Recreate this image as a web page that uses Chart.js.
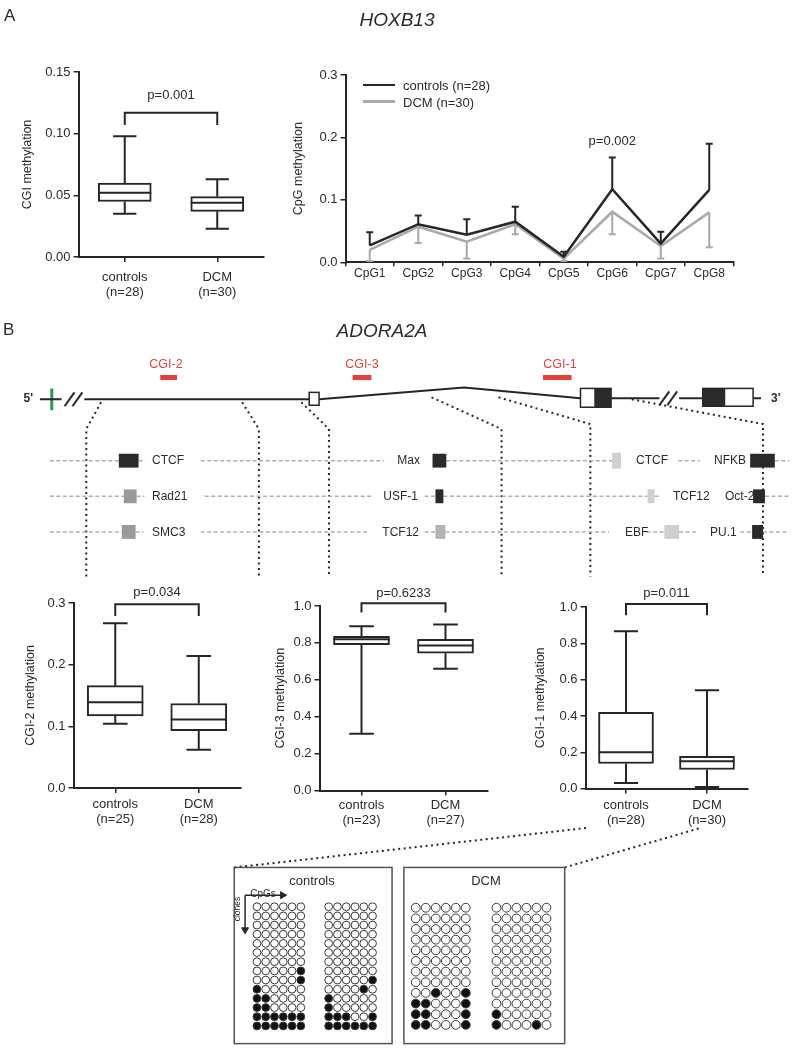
<!DOCTYPE html>
<html>
<head>
<meta charset="utf-8">
<title>HOXB13 / ADORA2A methylation</title>
<script src="https://cdn.jsdelivr.net/npm/chart.js@4.4.1/dist/chart.umd.min.js"></script>
<style>
  body { margin: 0; background: #fff; font-family: "Liberation Sans", Arial, sans-serif; color: #2b2b2b; }
  #page { position: relative; width: 795px; height: 1051px; overflow: hidden; }
  .box { position: absolute; }
  .t { position: absolute; white-space: nowrap; line-height: 1; }
</style>
</head>
<body>
<div id="page"></div>
<script>
// ---------- data ----------

// A: HOXB13 CGI methylation (box = quartiles, whiskers = min/max)
const hoxGroups = [['controls', '(n=28)'], ['DCM', '(n=30)']];
const hoxMin = [0.035, 0.023];
const hoxQ1  = [0.045, 0.037];
const hoxMed = [0.052, 0.044];
const hoxQ3  = [0.060, 0.049];
const hoxMax = [0.098, 0.063];

// A: single CpGs, mean + one sided error bar end
const cpgLabels     = ['CpG1', 'CpG2', 'CpG3', 'CpG4', 'CpG5', 'CpG6', 'CpG7', 'CpG8'];
const cpgControls   = [0.027, 0.061, 0.044, 0.065, 0.009, 0.117, 0.030, 0.116];
const cpgControlsHi = [0.048, 0.075, 0.069, 0.089, 0.017, 0.168, 0.049, 0.190];
const cpgDcm        = [0.020, 0.057, 0.033, 0.061, 0.006, 0.081, 0.026, 0.080];
const cpgDcmLo      = [0.002, 0.031, 0.006, 0.045, 0.002, 0.045, 0.006, 0.024];

// B: ADORA2A CGI-2
const cgi2Groups = [['controls', '(n=25)'], ['DCM', '(n=28)']];
const cgi2Min = [0.104, 0.062];
const cgi2Q1  = [0.117, 0.093];
const cgi2Med = [0.139, 0.111];
const cgi2Q3  = [0.166, 0.137];
const cgi2Max = [0.267, 0.214];

// B: CGI-3
const cgi3Groups = [['controls', '(n=23)'], ['DCM', '(n=27)']];
const cgi3Min = [0.307, 0.660];
const cgi3Q1  = [0.791, 0.744];
const cgi3Med = [0.820, 0.786];
const cgi3Q3  = [0.835, 0.820];
const cgi3Max = [0.890, 0.900];

// B: CGI-1
const cgi1Groups = [['controls', '(n=28)'], ['DCM', '(n=30)']];
const cgi1Min = [0.031, 0.009];
const cgi1Q1  = [0.138, 0.105];
const cgi1Med = [0.200, 0.150];
const cgi1Q3  = [0.420, 0.178];
const cgi1Max = [0.866, 0.541];

// bisulfite clones, each row = [sample 1, sample 2], 1 = methylated CpG
const controlsClones = [
  ['000000', '000000'], ['000000', '000000'], ['000000', '000000'], ['000000', '000000'],
  ['000000', '000000'], ['000000', '000000'], ['000000', '000000'],
  ['000001', '000000'],
  ['000001', '000001'],
  ['100000', '000010'],
  ['110000', '100000'],
  ['110000', '100000'],
  ['111111', '111001'],
  ['111111', '111111']
];
const dcmClones = [
  ['000000', '000000'], ['000000', '000000'], ['000000', '000000'], ['000000', '000000'],
  ['000000', '000000'], ['000000', '000000'], ['000000', '000000'], ['000000', '000000'],
  ['001001', '000000'],
  ['110001', '000000'],
  ['110001', '100000'],
  ['110001', '100010']
];

// ---------- helpers ----------
const ink = '#262626';
const txt = '#2b2b2b';
const grey = '#a9a9a9';
const red = '#e5403a';
const FONT = '"Liberation Sans", Arial, sans-serif';
Chart.defaults.font.family = FONT;
Chart.defaults.color = txt;

const page = document.getElementById('page');

function place(left, top, w, h) {
  const d = document.createElement('div');
  d.className = 'box';
  d.style.cssText = `left:${left}px;top:${top}px;width:${w}px;height:${h}px`;
  const c = document.createElement('canvas');
  d.appendChild(c);
  page.appendChild(d);
  return c;
}

function label(text, x, y, o = {}) {
  const d = document.createElement('div');
  d.className = 't';
  d.textContent = text;
  const ax = o.align === 'left' ? '0' : o.align === 'right' ? '-100%' : '-50%';
  d.style.left = x + 'px';
  d.style.top = y + 'px';
  d.style.transform = `translate(${ax}, -50%)` + (o.rot ? ` rotate(${o.rot}deg)` : '');
  d.style.fontSize = (o.size || 12) + 'px';
  if (o.color) d.style.color = o.color;
  if (o.italic) d.style.fontStyle = 'italic';
  if (o.bold) d.style.fontWeight = 'bold';
  d.style.zIndex = 5;
  page.appendChild(d);
}

function axisGrid(extra) {
  return Object.assign({ drawOnChartArea: false, tickLength: 5, color: ink, lineWidth: 1.5 }, extra || {});
}

// whiskers, median, bracket and p value for a box plot
function boxExtras(st, ann) {
  return {
    id: 'boxExtras',
    afterDatasetsDraw(chart) {
      const { ctx, scales: { x, y } } = chart;
      const bars = chart.getDatasetMeta(0).data;
      ctx.save();
      ctx.strokeStyle = ink;
      ctx.lineWidth = 2;
      bars.forEach((bar, i) => {
        const half = bar.width / 2, cap = bar.width * 0.22;
        const pMax = y.getPixelForValue(st.max[i]);
        const pMin = y.getPixelForValue(st.min[i]);
        const pMed = y.getPixelForValue(st.med[i]);
        const pQ1 = y.getPixelForValue(st.q1[i]);
        const pQ3 = y.getPixelForValue(st.q3[i]);
        ctx.beginPath();
        ctx.moveTo(bar.x - half, pMed); ctx.lineTo(bar.x + half, pMed);
        ctx.moveTo(bar.x, pQ3); ctx.lineTo(bar.x, pMax);
        ctx.moveTo(bar.x - cap, pMax); ctx.lineTo(bar.x + cap, pMax);
        ctx.moveTo(bar.x, pQ1); ctx.lineTo(bar.x, pMin);
        ctx.moveTo(bar.x - cap, pMin); ctx.lineTo(bar.x + cap, pMin);
        ctx.stroke();
      });
      const xa = x.getPixelForValue(0), xb = x.getPixelForValue(1);
      const yb = y.getPixelForValue(ann.bar), yl = y.getPixelForValue(ann.leg);
      ctx.beginPath();
      ctx.moveTo(xa, yl); ctx.lineTo(xa, yb); ctx.lineTo(xb, yb); ctx.lineTo(xb, yl);
      ctx.stroke();
      ctx.fillStyle = txt;
      ctx.font = '13px ' + FONT;
      ctx.textAlign = 'center';
      ctx.textBaseline = 'middle';
      ctx.fillText(ann.p, (xa + xb) / 2, y.getPixelForValue(ann.text));
      ctx.restore();
    }
  };
}

function boxChart(geo, groups, st, ann) {
  const padTop = 24, xH = 46;
  const L = geo.titleX - 7.5, T = geo.top - padTop;
  const W = geo.right + 6 - L, H = geo.bottom + xH - T;
  const canvas = place(L, T, W, H);
  return new Chart(canvas, {
    type: 'bar',
    data: {
      labels: groups,
      datasets: [{
        data: st.q1.map((v, i) => [v, st.q3[i]]),
        backgroundColor: '#fff', borderColor: ink, borderWidth: 2,
        borderSkipped: false, barThickness: geo.boxW
      }]
    },
    options: {
      responsive: true, maintainAspectRatio: false, animation: false,
      layout: { padding: { top: padTop, right: 6, left: 0, bottom: 0 } },
      plugins: { legend: { display: false }, tooltip: { enabled: false } },
      scales: {
        x: {
          grid: axisGrid({ offset: false }),
          border: { color: ink, width: 2 },
          ticks: { font: { size: 13, lineHeight: 1.15 }, color: txt, padding: geo.xPad, maxRotation: 0 },
          afterFit: s => { s.height = xH; }
        },
        y: {
          min: 0, max: geo.max,
          grid: axisGrid(),
          border: { color: ink, width: 2 },
          ticks: { stepSize: geo.step, font: { size: 13 }, color: txt, padding: 3,
                   callback: v => Number(v).toFixed(geo.digits) },
          title: { display: true, text: geo.title, font: { size: 12.5 }, color: txt, padding: 0 },
          afterFit: s => { s.width = geo.axisX - L; }
        }
      }
    },
    plugins: [boxExtras(st, ann)]
  });
}

// ---------- A: HOXB13 ----------
label('A', 4, 15, { align: 'left', size: 17 });
label('HOXB13', 397, 19, { size: 19, italic: true });

boxChart(
  { titleX: 27, axisX: 78, top: 72, bottom: 257, right: 263, boxW: 53, max: 0.15, step: 0.05, digits: 2, xPad: 8, title: 'CGI methylation' },
  hoxGroups,
  { min: hoxMin, q1: hoxQ1, med: hoxMed, q3: hoxQ3, max: hoxMax },
  { p: 'p=0.001', bar: 0.117, leg: 0.107, text: 0.131 }
);

// CpG line chart
const errorBars = {
  id: 'errorBars',
  beforeDatasetsDraw(chart) {
    const { ctx, scales: { y } } = chart;
    ctx.save();
    ctx.lineWidth = 2;
    chart.data.datasets.forEach((ds, di) => {
      ctx.strokeStyle = ds.borderColor;
      chart.getDatasetMeta(di).data.forEach((pt, i) => {
        const ye = y.getPixelForValue(ds.errEnd[i]);
        ctx.beginPath();
        ctx.moveTo(pt.x, pt.y); ctx.lineTo(pt.x, ye);
        ctx.moveTo(pt.x - 3.5, ye); ctx.lineTo(pt.x + 3.5, ye);
        ctx.stroke();
      });
    });
    ctx.restore();
  },
  afterDatasetsDraw(chart) {
    const { ctx, scales: { x, y } } = chart;
    ctx.save();
    ctx.fillStyle = txt;
    ctx.font = '13px ' + FONT;
    ctx.textAlign = 'center';
    ctx.textBaseline = 'middle';
    ctx.fillText('p=0.002', x.getPixelForValue(5), y.getPixelForValue(0.193));
    ctx.restore();
  }
};

(function () {
  const geo = { titleX: 298, axisX: 345, top: 75, bottom: 262.3, right: 733 };
  const padTop = 24, xH = 30;
  const L = geo.titleX - 7.5, T = geo.top - padTop;
  const canvas = place(L, T, geo.right + 8 - L, geo.bottom + xH - T);
  new Chart(canvas, {
    type: 'line',
    data: {
      labels: cpgLabels,
      datasets: [
        { label: 'controls (n=28)', data: cpgControls, errEnd: cpgControlsHi, borderColor: ink, borderWidth: 2.5, pointRadius: 0, tension: 0 },
        { label: 'DCM (n=30)', data: cpgDcm, errEnd: cpgDcmLo, borderColor: grey, borderWidth: 2.5, pointRadius: 0, tension: 0 }
      ]
    },
    options: {
      responsive: true, maintainAspectRatio: false, animation: false,
      layout: { padding: { top: padTop, right: 8, left: 0, bottom: 0 } },
      plugins: { legend: { display: false }, tooltip: { enabled: false } },
      scales: {
        x: {
          offset: true,
          grid: axisGrid({ offset: true, tickLength: 4 }),
          border: { color: ink, width: 2 },
          ticks: { font: { size: 12 }, color: txt, padding: 0, maxRotation: 0, autoSkip: false },
          afterFit: s => { s.height = xH; }
        },
        y: {
          min: 0, max: 0.3,
          grid: axisGrid(),
          border: { color: ink, width: 2 },
          ticks: { stepSize: 0.1, font: { size: 13 }, color: txt, padding: 3, callback: v => Number(v).toFixed(1) },
          title: { display: true, text: 'CpG methylation', font: { size: 12.5 }, color: txt, padding: 0 },
          afterFit: s => { s.width = geo.axisX - L; }
        }
      }
    },
    plugins: [errorBars]
  });
})();

// legend of the CpG chart
[['controls (n=28)', ink, 85], ['DCM (n=30)', grey, 101.7]].forEach(([name, col, y]) => {
  const sw = document.createElement('div');
  sw.className = 'box';
  sw.style.cssText = `left:363px;top:${y - 1.25}px;width:32px;height:2.5px;background:${col};z-index:5`;
  page.appendChild(sw);
  label(name, 403, y, { align: 'left', size: 13 });
});

// ---------- B: ADORA2A ----------
label('B', 3, 329, { align: 'left', size: 17 });
label('ADORA2A', 382, 330, { size: 19, italic: true });
label("5'", 33, 398, { align: 'right', size: 12, bold: true });
label("3'", 771, 398, { align: 'left', size: 12, bold: true });
label('CGI-2', 166, 364, { size: 12.5, color: red });
label('CGI-3', 362, 364, { size: 12.5, color: red });
label('CGI-1', 560, 364, { size: 12.5, color: red });

// transcription factor names [text, x, y, align]
[
  ['CTCF', 152, 460, 'left'], ['Max', 420, 460, 'right'], ['CTCF', 636, 460, 'left'], ['NFKB', 714, 460, 'left'],
  ['Rad21', 152, 496, 'left'], ['USF-1', 418, 496, 'right'], ['TCF12', 673, 496, 'left'], ['Oct-2', 725, 496, 'left'],
  ['SMC3', 152, 532, 'left'], ['TCF12', 419, 532, 'right'], ['EBF', 625, 532, 'left'], ['PU.1', 710, 532, 'left']
].forEach(([t, x, y, a]) => label(t, x, y, { align: a, size: 12 }));

label('controls', 312, 880, { size: 13 });
label('DCM', 486, 880, { size: 13 });
label('CpGs', 263, 894, { size: 10 });
label('clones', 237, 909, { size: 8.5, rot: -90 });

// gene scheme, transcription factor tracks and clone panels share one page-sized scale
const tfBlack = '#2a2a2a', tfDark = '#9a9a9a', tfMid = '#b3b3b3', tfLight = '#cfcfcf';
const rects = [
  { x1: 308, y1: 391, x2: 318, y2: 404, fill: '#fff', stroke: ink },
  { x1: 583, y1: 387, x2: 597, y2: 406, fill: '#fff' },
  { x1: 597, y1: 387, x2: 614, y2: 406, fill: tfBlack },
  { x1: 583, y1: 387, x2: 614, y2: 406, stroke: ink },
  { x1: 707, y1: 387, x2: 730, y2: 405, fill: tfBlack },
  { x1: 730, y1: 387, x2: 758, y2: 405, fill: '#fff' },
  { x1: 707, y1: 387, x2: 758, y2: 405, stroke: ink },
  { x1: 115, y1: 453, x2: 135, y2: 467, fill: tfBlack },
  { x1: 433, y1: 453, x2: 447, y2: 467, fill: tfBlack },
  { x1: 615, y1: 452, x2: 624, y2: 468, fill: tfLight },
  { x1: 755, y1: 453, x2: 780, y2: 467, fill: tfBlack },
  { x1: 120, y1: 489, x2: 133, y2: 503, fill: tfDark },
  { x1: 436, y1: 489, x2: 444, y2: 503, fill: tfBlack },
  { x1: 651, y1: 489, x2: 658, y2: 503, fill: tfLight },
  { x1: 758, y1: 489, x2: 770, y2: 503, fill: tfBlack },
  { x1: 118, y1: 525, x2: 132, y2: 539, fill: tfDark },
  { x1: 436, y1: 525, x2: 446, y2: 539, fill: tfMid },
  { x1: 668, y1: 525, x2: 683, y2: 539, fill: tfLight },
  { x1: 757, y1: 525, x2: 768, y2: 539, fill: tfBlack },
  { x1: 232, y1: 871, x2: 392, y2: 1049, stroke: '#555' },
  { x1: 404, y1: 871, x2: 567, y2: 1049, stroke: '#555' }
];

const rectPlugin = {
  id: 'rects',
  afterDatasetsDraw(chart) {
    const { ctx, scales: { x, y } } = chart;
    ctx.save();
    ctx.lineWidth = 1.5;
    rects.forEach(r => {
      const px = x.getPixelForValue(r.x1), py = y.getPixelForValue(r.y1);
      const w = x.getPixelForValue(r.x2) - px, h = y.getPixelForValue(r.y2) - py;
      if (r.fill) { ctx.fillStyle = r.fill; ctx.fillRect(px, py, w, h); }
      if (r.stroke) { ctx.strokeStyle = r.stroke; ctx.strokeRect(px, py, w, h); }
    });
    ctx.restore();
  }
};

function seg(pts, color, width, dash) {
  return {
    data: pts.map(([x, y]) => ({ x, y })), showLine: true, borderColor: color,
    borderWidth: width, borderDash: dash || [], pointRadius: 0, tension: 0, fill: false
  };
}

const lines = [];
// gene body
[[[35, 398], [57, 398]], [[80, 398], [308, 398]], [[318, 398], [465, 386], [583, 397]],
 [[614, 397], [663, 397]], [[683, 397], [707, 397]], [[758, 397], [766, 397]],
 [[60, 405], [70, 391]], [[68, 405], [78, 391]], [[663, 404], [673, 390]], [[671, 404], [681, 390]]
].forEach(p => lines.push(seg(p, ink, 2)));
lines.push(seg([[47, 387], [47, 409]], '#2f9a4a', 3));
[[157, 174], [352, 371], [545, 574]].forEach(([a, b]) => lines.push(seg([[a, 376], [b, 376]], red, 5)));

// dashed factor tracks
const tracks = {
  460: [[45, 115], [135, 142], [198, 384], [447, 615], [682, 704], [780, 795]],
  496: [[45, 120], [133, 141], [202, 371], [425, 436], [444, 651], [658, 664], [770, 795]],
  532: [[45, 118], [132, 140], [198, 367], [425, 436], [446, 612], [650, 668], [683, 701], [745, 757], [768, 795]]
};
Object.entries(tracks).forEach(([y, list]) => {
  list.forEach(([a, b]) => lines.push(seg([[a, +y], [b, +y]], '#b0b0b0', 1.5, [4, 2.5])));
});

// dotted connectors
[[[97, 401], [82, 428], [82, 577]], [[240, 401], [257, 428], [257, 577]], [[300, 401], [328, 428], [328, 577]],
 [[432, 396], [503, 428], [503, 577]], [[500, 396], [593, 423], [593, 577]], [[635, 398], [768, 423], [768, 577]],
 [[232, 871], [590, 831]], [[567, 871], [705, 831]]
].forEach(p => lines.push(seg(p, ink, 2, [2, 3.5])));

// clone panel axes arrows
lines.push(seg([[243, 899], [279, 899]], ink, 1.5));
lines.push(seg([[243, 899], [243, 932]], ink, 1.5));
lines.push({
  data: [{ x: 281, y: 899, rot: 90 }, { x: 243, y: 934, rot: 180 }],
  pointStyle: 'triangle', pointRadius: 4, pointRotation: c => (c.raw ? c.raw.rot : 0),
  pointBackgroundColor: ink, pointBorderColor: ink, pointBorderWidth: 1, showLine: false
});

// clone circles
const clonePanels = [
  { rows: controlsClones, x0: [255, 327.7], dx: 8.9, y0: 910.7, dy: 9.26, r: 3.9 },
  { rows: dcmClones, x0: [416, 497.8], dx: 10.15, y0: 911.7, dy: 10.76, r: 4.4 }
];
clonePanels.forEach(p => {
  const pts = [];
  p.rows.forEach((row, j) => row.forEach((s, g) => [...s].forEach((c, i) => {
    pts.push({ x: p.x0[g] + i * p.dx, y: p.y0 + j * p.dy, m: c === '1' });
  })));
  lines.push({
    data: pts, showLine: false, pointRadius: p.r, pointBorderWidth: 1,
    pointBorderColor: '#3a3a3a',
    pointBackgroundColor: c => (c.raw && c.raw.m ? '#111' : '#fff')
  });
});

const diag = place(0, 0, 795, 1051);
diag.parentNode.style.zIndex = 0;
new Chart(diag, {
  type: 'scatter',
  data: { datasets: lines },
  options: {
    responsive: true, maintainAspectRatio: false, animation: false,
    layout: { padding: 0 },
    plugins: { legend: { display: false }, tooltip: { enabled: false } },
    scales: {
      x: { type: 'linear', display: false, min: 0, max: 795 },
      y: { type: 'linear', display: false, min: 0, max: 1051, reverse: true }
    }
  },
  plugins: [rectPlugin]
});

// ---------- B box plots ----------
boxChart(
  { titleX: 30, axisX: 73, top: 603.3, bottom: 788.3, right: 240, boxW: 56, max: 0.3, step: 0.1, digits: 1, xPad: 4, title: 'CGI-2 methylation' },
  cgi2Groups,
  { min: cgi2Min, q1: cgi2Q1, med: cgi2Med, q3: cgi2Q3, max: cgi2Max },
  { p: 'p=0.034', bar: 0.298, leg: 0.279, text: 0.317 }
);
boxChart(
  { titleX: 280, axisX: 319, top: 605.5, bottom: 790, right: 487, boxW: 56, max: 1, step: 0.2, digits: 1, xPad: 2.5, title: 'CGI-3 methylation' },
  cgi3Groups,
  { min: cgi3Min, q1: cgi3Q1, med: cgi3Med, q3: cgi3Q3, max: cgi3Max },
  { p: 'p=0.6233', bar: 1.015, leg: 0.965, text: 1.068 }
);
boxChart(
  { titleX: 540, axisX: 585, top: 606.7, bottom: 788.3, right: 747, boxW: 55, max: 1, step: 0.2, digits: 1, xPad: 4, title: 'CGI-1 methylation' },
  cgi1Groups,
  { min: cgi1Min, q1: cgi1Q1, med: cgi1Med, q3: cgi1Q3, max: cgi1Max },
  { p: 'p=0.011', bar: 1.017, leg: 0.954, text: 1.074 }
);
</script>
</body>
</html>
